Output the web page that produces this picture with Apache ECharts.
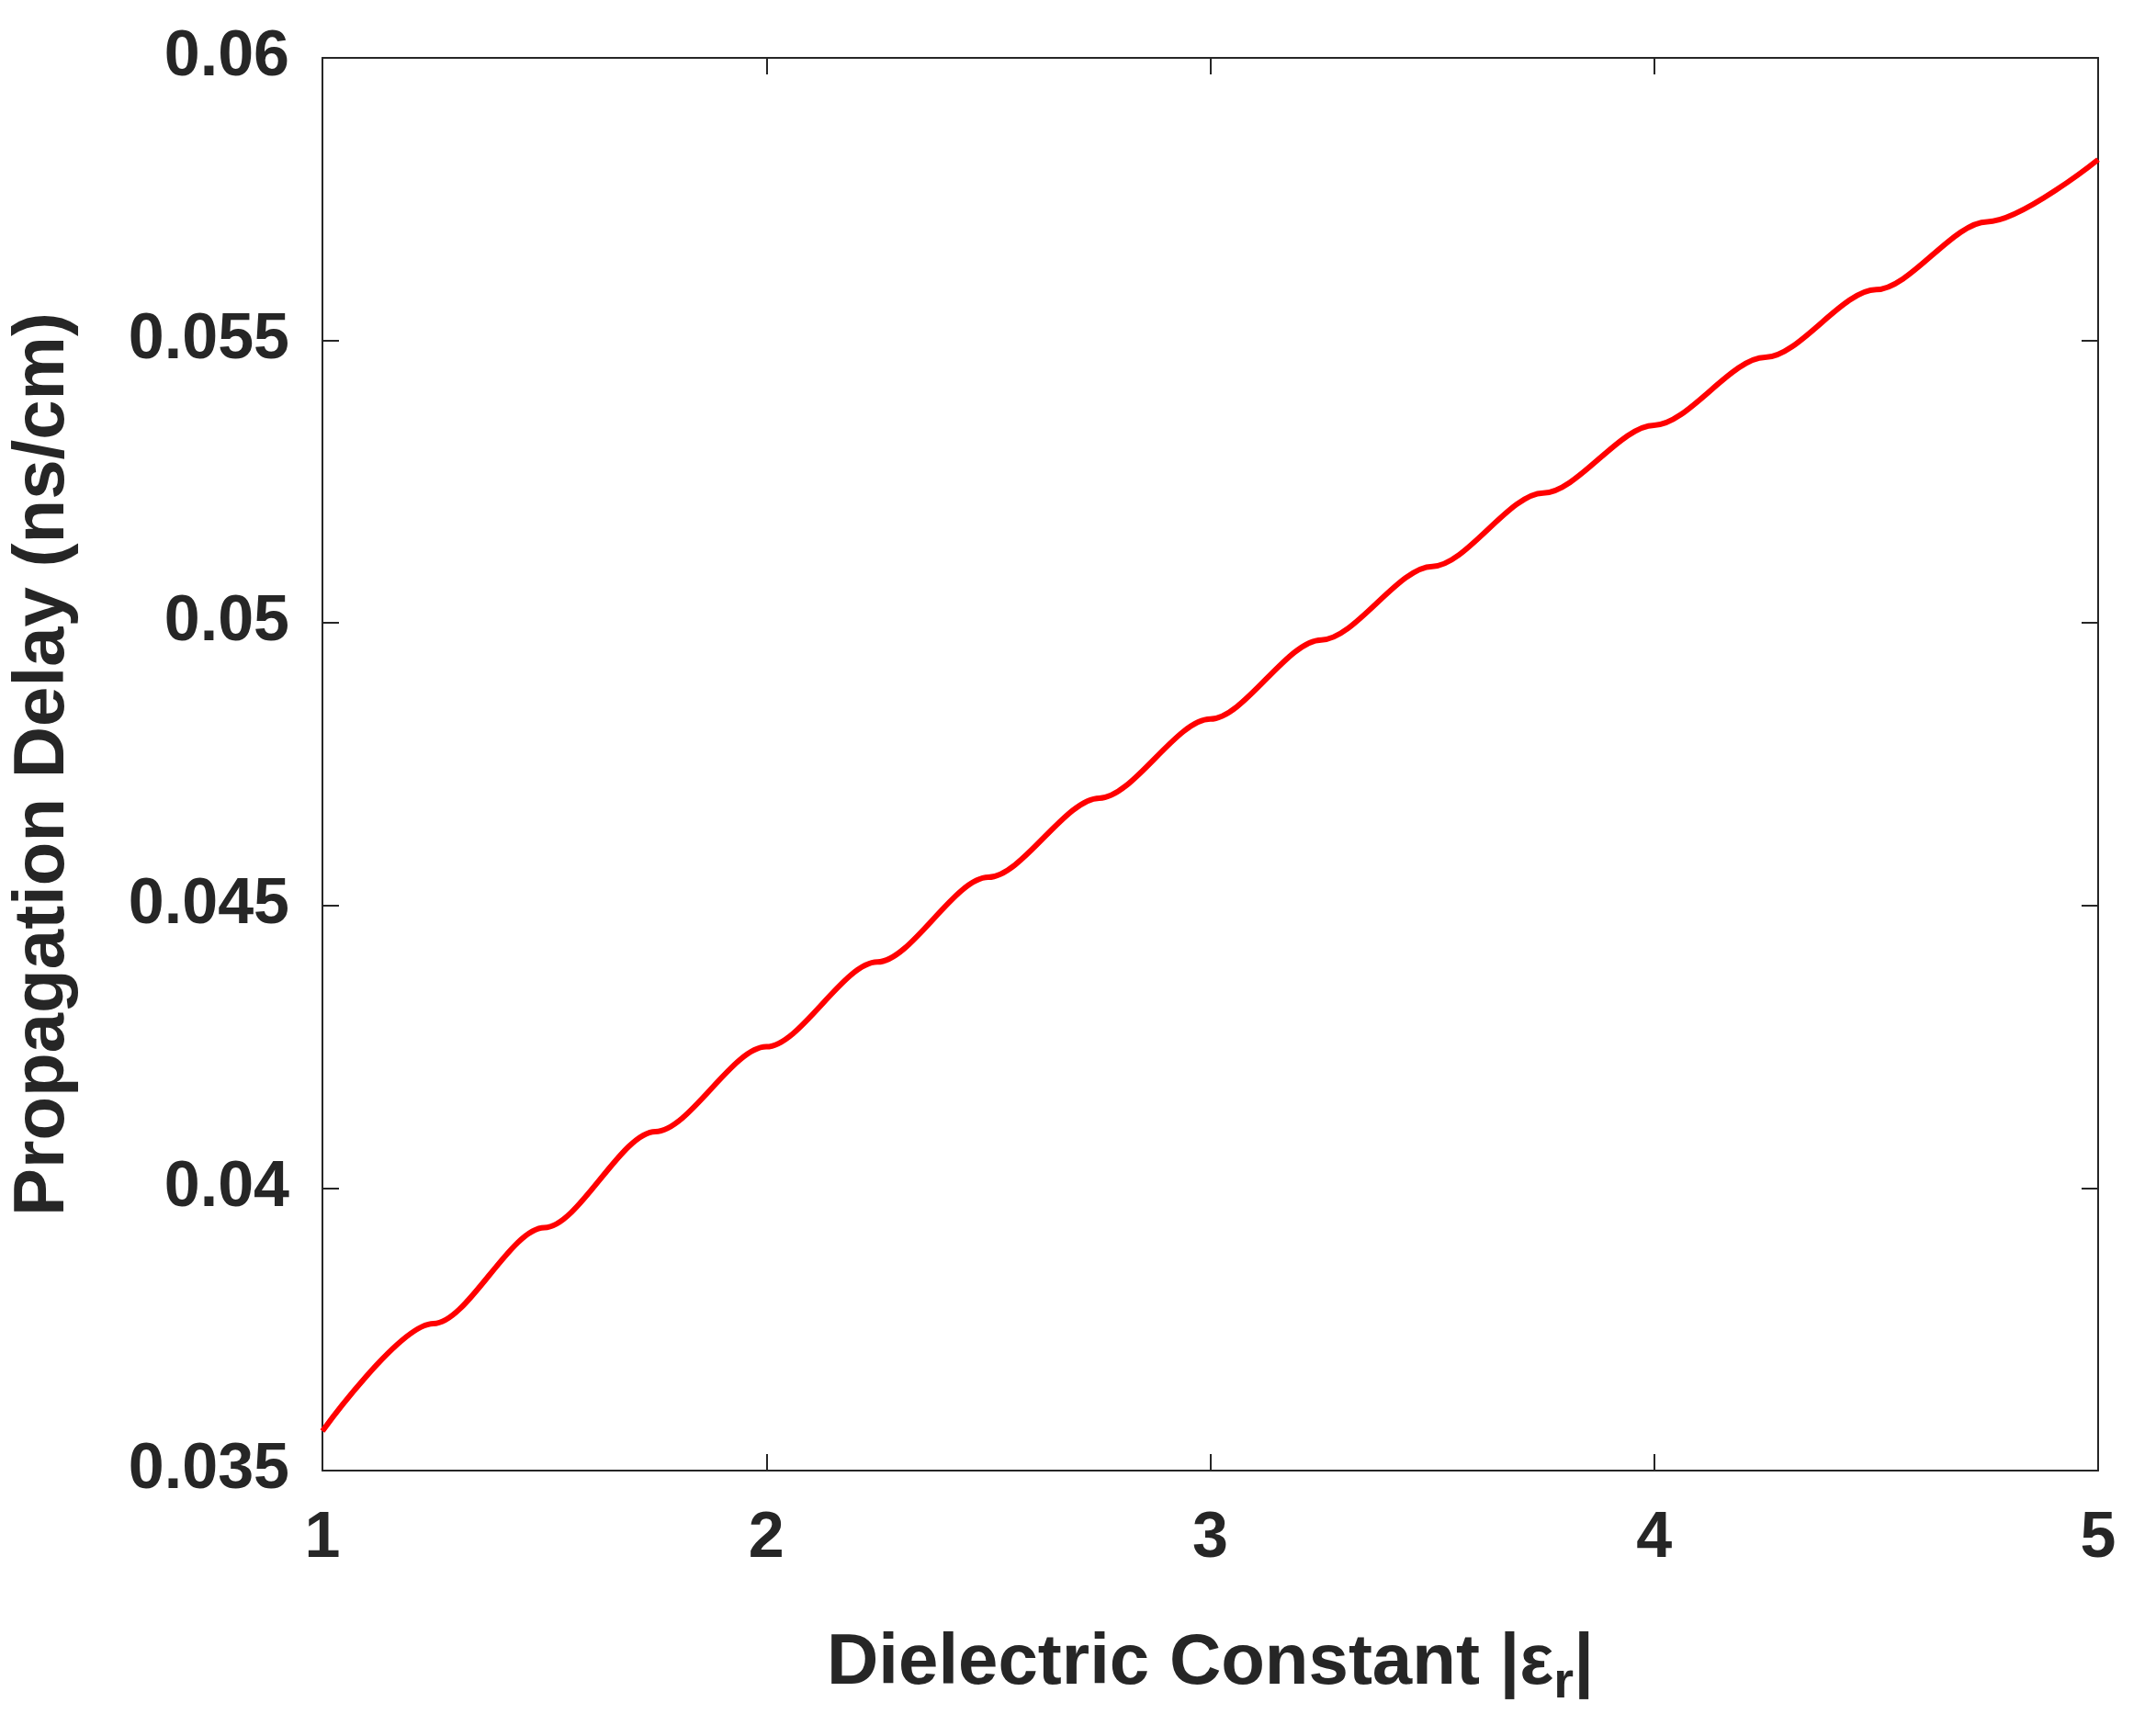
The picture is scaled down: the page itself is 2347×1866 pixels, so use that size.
<!DOCTYPE html>
<html><head><meta charset="utf-8">
<script src="https://cdn.jsdelivr.net/npm/echarts@6/dist/echarts.min.js"></script>
<style>html,body{margin:0;padding:0;background:#fff}#c{width:2347px;height:1866px}</style>
</head><body><div id="c"></div>
<script>
const xValues = [1, 1.25, 1.5, 1.75, 2, 2.25, 2.5, 2.75, 3, 3.25, 3.5, 3.75, 4, 4.25, 4.5, 4.75, 5];
const yValues = [0.0357, 0.0376, 0.0393, 0.0410, 0.0425, 0.0440, 0.0455, 0.0469, 0.0483, 0.0497, 0.0510, 0.0523, 0.0535, 0.0547, 0.0559, 0.0571, 0.0582];
const xTicks = [1, 2, 3, 4, 5];
const yTicks = [0.035, 0.04, 0.045, 0.05, 0.055, 0.06];

const ax = '#262626';
const font = 'Liberation Sans';
const chart = echarts.init(document.getElementById('c'));
const common = {
  axisLine: {show: true, lineStyle: {color: ax, width: 2}},
  axisTick: {show: true, inside: true, length: 18, lineStyle: {color: ax, width: 2}},
  splitLine: {show: false}
};
chart.setOption({
  animation: false,
  grid: {left: 337, right: 63, top: 63, bottom: 260},
  xAxis: [
    Object.assign({type: 'value', min: 1, max: 5, interval: 1,
      axisLabel: {color: ax, fontFamily: font, fontWeight: 'bold', fontSize: 70, margin: 40},
      name: '{t|Dielectric Constant |ε}{s|r}{t||}', nameLocation: 'middle', nameGap: 160,
      nameTextStyle: {rich: {
        t: {color: ax, fontFamily: font, fontWeight: 'bold', fontSize: 78},
        s: {color: ax, fontFamily: font, fontWeight: 'bold', fontSize: 56, padding: [44, 0, 0, 0]}
      }}
    }, common),
    Object.assign({type: 'value', min: 1, max: 5, interval: 1, position: 'top', axisLabel: {show: false}}, common)
  ],
  yAxis: [
    Object.assign({type: 'value', min: 0.035, max: 0.06, interval: 0.005,
      axisLabel: {color: ax, fontFamily: font, fontWeight: 'bold', fontSize: 70, margin: 36,
        formatter: v => String(+v.toFixed(3))},
      name: 'Propagation Delay (ns/cm)', nameLocation: 'middle', nameGap: 265,
      nameTextStyle: {color: ax, fontFamily: font, fontWeight: 'bold', fontSize: 78}
    }, common),
    Object.assign({type: 'value', min: 0.035, max: 0.06, interval: 0.005, position: 'right', axisLabel: {show: false}}, common)
  ],
  series: [{
    type: 'line', smooth: 0.3, smoothMonotone: 'x', showSymbol: false,
    data: xValues.map((x, i) => [x, yValues[i]]),
    lineStyle: {color: '#ff0000', width: 6}
  }]
});
</script></body></html>
